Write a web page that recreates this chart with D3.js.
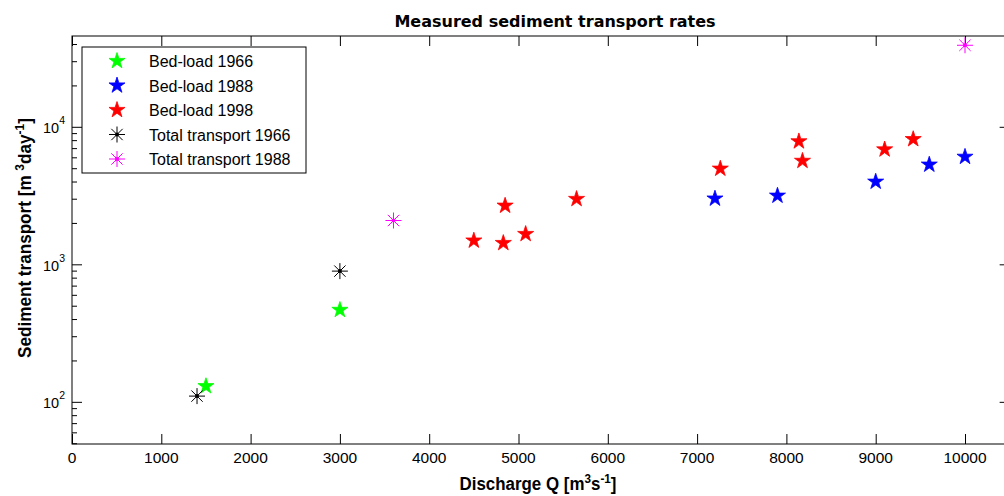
<!DOCTYPE html>
<html><head><meta charset="utf-8">
<script src="https://cdn.jsdelivr.net/npm/d3@7"></script>
<style>
body{margin:0;background:#fff;}
svg{display:block;}
text{font-family:"Liberation Sans",Arial,sans-serif;}
</style></head>
<body>
<svg id="chart" width="1004" height="496"></svg>
<script>
// ---- data ----
const bed1966_Q = [1500, 3000];
const bed1966_S = [131, 470];
const bed1988_Q = [7200, 7900, 9000, 9600, 10000];
const bed1988_S = [3030, 3180, 4020, 5350, 6100];
const bed1998_Q = [4500, 4850, 4830, 5080, 5650, 7260, 8140, 8180, 9100, 9420];
const bed1998_S = [1500, 2690, 1440, 1675, 3010, 5000, 7900, 5700, 6900, 8200];
const tot1966_Q = [1400, 3000];
const tot1966_S = [111, 900];
const tot1988_Q = [3600, 10000];
const tot1988_S = [2100, 39500];
const xTickValues = [0,1000,2000,3000,4000,5000,6000,7000,8000,9000,10000];
const yTickExps = [2,3,4];
const legendLabels = ["Bed-load 1966","Bed-load 1988","Bed-load 1998","Total transport 1966","Total transport 1988"];

const series = [
  {name:legendLabels[0], Q:bed1966_Q, S:bed1966_S, color:"#00ff00", marker:"star"},
  {name:legendLabels[1], Q:bed1988_Q, S:bed1988_S, color:"#0000ff", marker:"star"},
  {name:legendLabels[2], Q:bed1998_Q, S:bed1998_S, color:"#ff0000", marker:"star"},
  {name:legendLabels[3], Q:tot1966_Q, S:tot1966_S, color:"#000000", marker:"ast"},
  {name:legendLabels[4], Q:tot1988_Q, S:tot1988_S, color:"#ff00ff", marker:"ast"}
];

const svg = d3.select("#chart");
const L = 72, T = 36, B = 444;
const pxPer1000 = 89.3;
const xMax = 10500;
const R = L + pxPer1000 * xMax / 1000;
const x = d3.scaleLinear().domain([0, xMax]).range([L, R]);
const y = d3.scaleLog().domain([Math.pow(10,1.697), Math.pow(10,4.664)]).range([B, T]);

// axes box
const g = svg.append("g");
g.append("rect").attr("x",L).attr("y",T).attr("width",R-L).attr("height",B-T)
  .attr("fill","none").attr("stroke","#000").attr("stroke-width",1);

// x axis bottom & top (inward ticks)
const xb = g.append("g").attr("transform",`translate(0,${B})`)
  .call(d3.axisBottom(x).tickValues(xTickValues).tickSize(-10).tickFormat(""));
const xt = g.append("g").attr("transform",`translate(0,${T})`)
  .call(d3.axisTop(x).tickValues(xTickValues).tickSize(-10).tickFormat(""));
[xb,xt].forEach(a=>{a.select(".domain").remove(); a.selectAll("line").attr("stroke","#000");});

g.selectAll(".xlab").data(xTickValues).enter().append("text")
  .attr("x",d=>x(d)).attr("y",B+19).attr("text-anchor","middle")
  .attr("font-size",15.5).attr("fill","#000").text(d=>d);

// y ticks: major + minor, both sides
const allY = y.ticks().filter(v=>v>=y.domain()[0] && v<=y.domain()[1]);
allY.forEach(v=>{
  const e = Math.log10(v);
  const major = Math.abs(e-Math.round(e))<1e-9;
  const len = major ? 10 : 5;
  g.append("line").attr("x1",L).attr("x2",L+len).attr("y1",y(v)).attr("y2",y(v)).attr("stroke","#000");
  g.append("line").attr("x1",R).attr("x2",R-len).attr("y1",y(v)).attr("y2",y(v)).attr("stroke","#000");
});
yTickExps.forEach(e=>{
  const t = g.append("text").attr("x",L-7).attr("y",y(Math.pow(10,e))+6)
    .attr("text-anchor","end").attr("font-size",14.5).attr("fill","#000");
  t.append("tspan").text("10");
  t.append("tspan").attr("dy",-9).attr("font-size",10.5).text(e);
});

// markers
const starPath = d3.symbol().type(d3.symbolStar).size(80)();
function drawMarker(sel, cx, cy, s){
  if(s.marker==="star"){
    sel.append("path").attr("d",starPath).attr("transform",`translate(${cx},${cy})`)
      .attr("fill",s.color).attr("stroke",s.color).attr("stroke-width",0.8);
  } else {
    const r = 8, gg = sel.append("g").attr("transform",`translate(${cx},${cy})`);
    [0,45,90,135].forEach(a=>{
      const rad = a*Math.PI/180;
      gg.append("line").attr("x1",-r*Math.cos(rad)).attr("y1",-r*Math.sin(rad))
        .attr("x2",r*Math.cos(rad)).attr("y2",r*Math.sin(rad))
        .attr("stroke",s.color).attr("stroke-width",1);
    });
    gg.append("circle").attr("r",2).attr("fill",s.color);
  }
}
const plot = svg.append("g");
series.forEach(s=>{
  s.Q.forEach((q,i)=>drawMarker(plot, x(q), y(s.S[i]), s));
});

// legend
const lg = svg.append("g");
lg.append("rect").attr("x",82).attr("y",47).attr("width",224).attr("height",126)
  .attr("fill","#fff").attr("stroke","#000").attr("stroke-width",1);
series.forEach((s,i)=>{
  const cy = 61 + i*24.5;
  drawMarker(lg, 117, cy, s);
  lg.append("text").attr("x",149).attr("y",cy+6).attr("font-size",16).attr("fill","#000").text(s.name);
});

// title and labels
svg.append("text").attr("x",555).attr("y",27).attr("text-anchor","middle")
  .style("font-family","'DejaVu Sans',sans-serif")
  .attr("font-size",16).attr("font-weight","bold").text("Measured sediment transport rates");

function fitWidth(node, target){
  const w = node.getBBox().width;
  return target / w;
}
const xlg = svg.append("g");
const xl = xlg.append("text").attr("x",0).attr("y",0).attr("text-anchor","middle")
  .attr("font-size",18).attr("font-weight","bold");
xl.append("tspan").text("Discharge Q [m");
xl.append("tspan").attr("dy",-7).attr("font-size",12.5).text("3");
xl.append("tspan").attr("dy",7).text("s");
xl.append("tspan").attr("dy",-7).attr("font-size",12.5).text("-1");
xl.append("tspan").attr("dy",7).text("]");
const sx = fitWidth(xl.node(), 157);
xlg.attr("transform",`translate(538,490) scale(${sx},1)`);

const ylg = svg.append("g");
const yl = ylg.append("text").attr("x",0).attr("y",0).attr("text-anchor","middle")
  .attr("font-size",18.5).attr("font-weight","bold");
yl.append("tspan").text("Sediment transport [m ");
yl.append("tspan").attr("dy",-7).attr("font-size",13).text("3");
yl.append("tspan").attr("dy",7).text("day");
yl.append("tspan").attr("dy",-7).attr("font-size",13).text("-1");
yl.append("tspan").attr("dy",7).text("]");
const sy = fitWidth(yl.node(), 240);
ylg.attr("transform",`translate(31,238) rotate(-90) scale(${sy},1)`);
</script>
</body></html>
